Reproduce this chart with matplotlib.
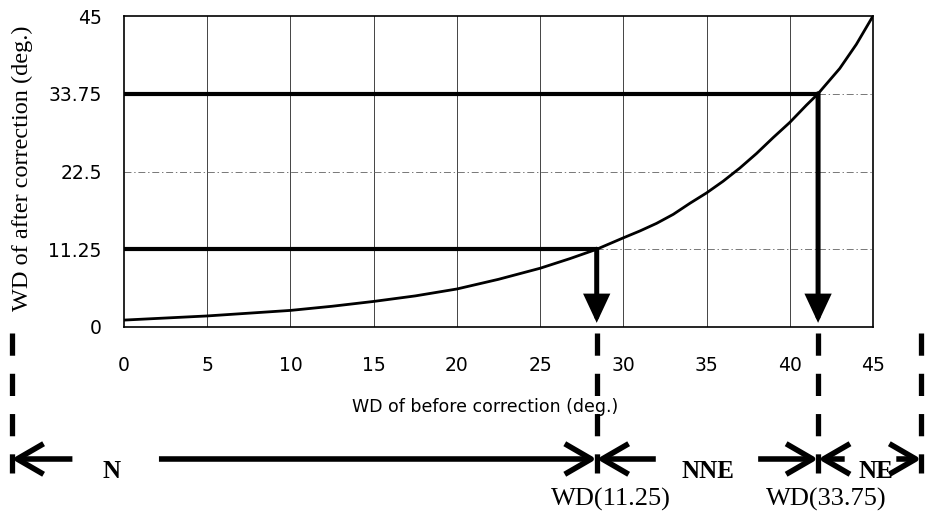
import matplotlib
matplotlib.use("Agg")
import matplotlib.pyplot as plt
from matplotlib.patches import ArrowStyle
from matplotlib.transforms import blended_transform_factory

plt.rcParams['lines.scale_dashes'] = False

# ---------------- data ----------------
wd_before = [0, 2.5, 5, 7.5, 10, 12.5, 15, 17.5, 20, 22.5, 25, 26.8, 28.4,
             30, 31, 32, 33, 34, 35, 36, 37, 38, 39, 40, 41, 41.7,
             42, 43, 44, 45]
wd_after = [1.0, 1.3, 1.6, 2.0, 2.4, 3.0, 3.7, 4.5, 5.5, 6.9, 8.5, 9.9, 11.25,
            12.9, 13.9, 15.0, 16.3, 17.9, 19.4, 21.1, 23.0, 25.1, 27.4, 29.6, 32.1, 33.75,
            34.6, 37.4, 40.9, 45]

x_ticks = [0, 5, 10, 15, 20, 25, 30, 35, 40, 45]
y_ticks = [0, 11.25, 22.5, 33.75, 45]
y_tick_labels = ["0", "11.25", "22.5", "33.75", "45"]

target_after = [11.25, 33.75]          # sector boundaries after correction
target_before = [28.4, 41.7]           # corresponding WD before correction
boundary_labels = ["WD(11.25)", "WD(33.75)"]
outer_bounds = [-6.75, 47.9]           # left / right sector marks (below axes)
sector_names = ["N", "NNE", "NE"]
sector_label_x = [-0.75, 35.1, 45.2]

# ---------------- figure ----------------
W, H = 927, 523
fig = plt.figure(figsize=(W / 100, H / 100), dpi=100)
ax = fig.add_axes([124 / W, 1 - 327 / H, 749 / W, 311 / H])

ax.set_xlim(0, 45)
ax.set_ylim(0, 45)
ax.set_xticks(x_ticks)
ax.set_yticks(y_ticks)
ax.set_yticklabels(y_tick_labels)
ax.tick_params(axis='both', length=0, labelsize=13.5, colors='black')
ax.tick_params(axis='x', pad=21)
ax.tick_params(axis='y', pad=16)
for s in ax.spines.values():
    s.set_linewidth(1.2)
    s.set_color('black')

# grid
for xv in x_ticks[1:-1]:
    ax.axvline(xv, color='#444444', lw=0.7, zorder=1)
for yv in y_ticks[1:-1]:
    ax.axhline(yv, color='#777777', lw=0.7, ls=(0, (5, 2, 1, 2)), zorder=1)

# curve
ax.plot(wd_before, wd_after, color='black', lw=2.0, zorder=3,
        solid_joinstyle='round')

# thick horizontal lines and vertical arrows
for xb, ya in zip(target_before, target_after):
    ax.plot([0, xb], [ya, ya], color='black', lw=3.0, solid_capstyle='butt', zorder=4)
    ax.annotate('', xy=(xb, 0.6), xytext=(xb, ya), xycoords='data', textcoords='data',
                arrowprops=dict(arrowstyle=ArrowStyle('-|>', head_length=1.5, head_width=0.7),
                                lw=3.6, color='black', shrinkA=0, shrinkB=0,
                                mutation_scale=10, joinstyle='miter'),
                zorder=5)

ax.set_xlabel("WD of before correction (deg.)", fontsize=12.5, family='DejaVu Sans')
ax.xaxis.set_label_coords((485 - 124) / 749, -(407 - 327) / 311)
ax.xaxis.label.set_va('center')
ax.set_ylabel("WD of after correction (deg.)", fontsize=17.5, family='Liberation Serif')
ax.yaxis.set_label_coords(-(124 - 22) / 749, (327 - 168) / 311)
ax.yaxis.label.set_va('center')

# ---------------- below-axes sector diagram ----------------
def fy(py):
    return 1 - py / H

blend = blended_transform_factory(ax.transData, fig.transFigure)

# dashed vertical boundary marks
for xb in [outer_bounds[0]] + target_before + [outer_bounds[1]]:
    ax.plot([xb, xb], [fy(333), fy(473)], transform=blend, color='black', lw=3.8,
            ls=(0, (16, 13)), clip_on=False, solid_capstyle='butt', zorder=6)

arrow_y = fy(459)
open_head = ArrowStyle('->', head_length=1.9, head_width=1.1)

def harrow(x_tail, x_tip):
    ax.annotate('', xy=(x_tip, arrow_y), xytext=(x_tail, arrow_y),
                xycoords=('data', 'figure fraction'),
                textcoords=('data', 'figure fraction'),
                arrowprops=dict(arrowstyle=open_head, lw=4.0, color='black',
                                shrinkA=0, shrinkB=0, mutation_scale=10,
                                capstyle='butt'),
                annotation_clip=False)

harrow(-3.1, outer_bounds[0])
harrow(2.1, target_before[0])
harrow(31.95, target_before[0])
harrow(38.1, target_before[1])
harrow(43.3, target_before[1])
harrow(46.4, outer_bounds[1])

for xl, name in zip(sector_label_x, sector_names):
    ax.text(xl, fy(471), name, transform=blend, ha='center', va='center',
            fontsize=18, fontweight='bold', family='Liberation Serif', clip_on=False)

for xb, lab, dx in zip(target_before, boundary_labels, [0.85, 0.5]):
    ax.text(xb + dx, fy(499), lab, transform=blend, ha='center', va='center',
            fontsize=19, family='Liberation Serif', clip_on=False)

fig.savefig("out.png", dpi=100)
